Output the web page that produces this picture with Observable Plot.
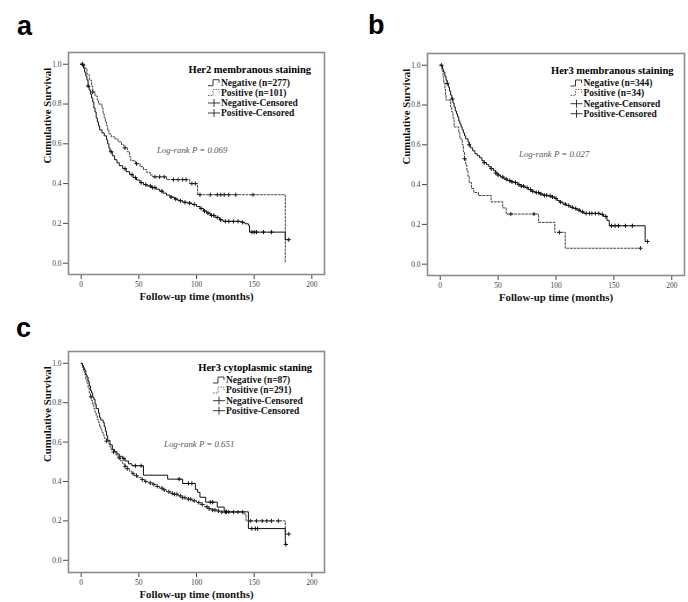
<!DOCTYPE html>
<html>
<head>
<meta charset="utf-8">
<script src="https://cdn.jsdelivr.net/npm/d3@7"></script>
<script src="https://cdn.jsdelivr.net/npm/@observablehq/plot@0.6"></script>
<style>
  html, body { margin: 0; padding: 0; background: #fff; }
  #root { position: relative; width: 688px; height: 602px; overflow: hidden; background: #fff; }
  #root svg { position: absolute; max-width: none; background: transparent; }
</style>
</head>
<body>
<div id="root"></div>
<script>
// ---------- shared axis values ----------
const xTicks = [0, 50, 100, 150, 200];
const yTicks = [0.0, 0.2, 0.4, 0.6, 0.8, 1.0];

// ---------- panel a : Her2 membranous staining ----------
const her2NegSteps = [[0,1.0],[2,0.98],[3,0.96],[4,0.94],[5,0.92],[6,0.89],[7,0.87],[8,0.85],[9,0.83],[10,0.81],[11,0.78],[12,0.76],[13,0.73],[14,0.71],[15,0.69],[16,0.67],[18,0.655],[20,0.64],[22,0.62],[23,0.60],[24,0.58],[25,0.56],[27,0.54],[29,0.52],[31,0.505],[33,0.49],[36,0.475],[39,0.46],[42,0.445],[45,0.43],[48,0.418],[51,0.405],[54,0.395],[57,0.388],[61,0.38],[65,0.372],[68,0.362],[71,0.352],[74,0.342],[77,0.332],[81,0.322],[84,0.314],[88,0.306],[92,0.302],[96,0.295],[100,0.285],[103,0.275],[106,0.262],[109,0.252],[112,0.24],[116,0.23],[120,0.218],[123,0.21],[139,0.205],[142,0.198],[145,0.19],[146,0.156],[177,0.118],[180,0.118]];
const her2NegCensor = [1,6,26,38,44,47,52,56,60,62,64,70,78,82,86,90,94,98,104,107,110,113,115,118,121,125,128,132,136,140,148,150,152,158,165,180];
const her2PosSteps = [[0,1.0],[3,0.98],[5,0.95],[7,0.92],[9,0.89],[10,0.86],[12,0.84],[14,0.82],[15,0.80],[18,0.78],[19,0.75],[20,0.73],[21,0.71],[22,0.69],[23,0.67],[24,0.65],[26,0.635],[29,0.625],[32,0.61],[35,0.595],[37,0.58],[40,0.56],[42,0.535],[43,0.515],[47,0.5],[51,0.485],[54,0.47],[57,0.455],[60,0.443],[62,0.434],[74,0.42],[94,0.40],[101,0.344],[177,0.344],[177,0]];
const her2PosCensor = [1,10,38,48,64,68,72,80,84,88,91,96,99,103,112,118,121,124,128,134,149];

// ---------- panel b : Her3 membranous staining ----------
const her3mNegSteps = [[0,1.0],[2,0.98],[3,0.965],[4,0.945],[5,0.925],[6,0.908],[7,0.89],[8,0.87],[9,0.85],[10,0.83],[11,0.81],[12,0.79],[13,0.77],[14,0.755],[15,0.74],[16,0.72],[17,0.705],[18,0.69],[19,0.675],[20,0.66],[21,0.645],[22,0.63],[24,0.615],[25,0.60],[26,0.585],[28,0.57],[30,0.555],[32,0.545],[34,0.535],[36,0.52],[38,0.51],[40,0.5],[42,0.49],[44,0.48],[46,0.47],[48,0.458],[50,0.448],[52,0.438],[55,0.428],[58,0.42],[61,0.414],[64,0.41],[67,0.4],[70,0.392],[73,0.385],[76,0.375],[79,0.366],[82,0.36],[86,0.353],[89,0.346],[93,0.343],[96,0.338],[99,0.33],[101,0.32],[103,0.312],[106,0.302],[109,0.295],[112,0.286],[115,0.28],[118,0.272],[121,0.263],[124,0.255],[138,0.25],[141,0.24],[144,0.22],[146,0.193],[177,0.114],[180,0.114]];
const her3mNegCensor = [1,6,10.5,25,38,44,48,50,54,57,60,62,65,68,70,72,75,78,80,83,85,87,90,92,95,97,100,104,108,111,114,117,120,123,126,129,131,134,137,140,143,148,151,154,160,166,179];
const her3mPosSteps = [[0,1.0],[1.5,0.97],[2.5,0.94],[3,0.91],[4,0.88],[4.5,0.85],[5,0.825],[9,0.79],[10,0.765],[11,0.735],[12,0.69],[16,0.66],[17,0.63],[19,0.60],[20,0.565],[21,0.53],[22,0.50],[23,0.47],[24,0.44],[25,0.41],[27,0.38],[29,0.36],[33,0.345],[44,0.313],[54,0.283],[57,0.252],[85,0.21],[99,0.16],[108,0.08],[173,0.08]];
const her3mPosCensor = [21,61,81,103,173];

// ---------- panel c : Her3 cytoplasmic staining ----------
const her3cNegSteps = [[0,1.0],[1,0.988],[2,0.977],[3,0.965],[4,0.942],[5,0.93],[6,0.908],[7,0.885],[8,0.862],[9,0.85],[10,0.828],[11,0.816],[12,0.793],[13,0.77],[15,0.747],[16,0.724],[17,0.712],[19,0.70],[20,0.678],[21,0.655],[22,0.632],[23,0.609],[25,0.586],[27,0.563],[29,0.552],[31,0.54],[33,0.528],[36,0.516],[38,0.504],[41,0.49],[44,0.48],[54,0.432],[75,0.412],[88,0.39],[99,0.36],[101,0.345],[103,0.32],[108,0.295],[118,0.27],[124,0.246],[145,0.161],[177,0.08],[177.5,0.08]];
const her3cNegCensor = [37,47,52,85,93,96,112,114,126,148,151,153,177.5];
const her3cPosSteps = [[0,1.0],[1,0.98],[2,0.96],[3,0.944],[4,0.92],[5,0.9],[6,0.875],[7,0.85],[8,0.83],[9,0.81],[10,0.79],[11,0.77],[12,0.75],[13,0.734],[14,0.715],[15,0.70],[16,0.68],[17,0.665],[18,0.65],[19,0.635],[20,0.62],[22,0.605],[24,0.59],[25,0.575],[26,0.562],[28,0.55],[30,0.535],[32,0.52],[34,0.505],[36,0.49],[38,0.477],[40,0.465],[42,0.452],[44,0.44],[46,0.43],[49,0.42],[52,0.41],[55,0.40],[58,0.393],[62,0.385],[65,0.375],[68,0.366],[71,0.358],[74,0.348],[77,0.34],[80,0.335],[84,0.327],[88,0.318],[92,0.31],[96,0.302],[100,0.293],[104,0.283],[107,0.272],[110,0.262],[113,0.255],[118,0.25],[121,0.245],[141,0.235],[143,0.20],[177,0.133],[180,0.133]];
const her3cPosCensor = [8.5,22,28,33,38,40,45,48,53,56,60,63,66,70,72,76,79,81,83,86,88,90,93,95,98,102,105,109,111,114,116,119,122,125,128,132,136,140,147,152,157,161,165,171,180];

// ---------- texts ----------
const panelLetters = ["a", "b", "c"];
const legendTitles = ["Her2 membranous staining", "Her3 membranous staining", "Her3 cytoplasmic staning"];
const legendEntries = [
  ["Negative (n=277)", "Positive (n=101)", "Negative-Censored", "Positive-Censored"],
  ["Negative (n=344)", "Positive (n=34)", "Negative-Censored", "Positive-Censored"],
  ["Negative (n=87)", "Positive (n=291)", "Negative-Censored", "Positive-Censored"]
];
const logRankP = ["0.069", "0.027", "0.651"];

// ---------- layout (pixel placement of each panel) ----------
const layouts = [
  {left: 0, top: 0, width: 334, height: 310, ml: 68, mr: 10, mt: 52, mb: 36, yDomain: [-0.057, 1.059],
   letter: [17, 35], legTitle: [311, 69], legX: 221, legY: [82.7, 92.5, 103, 113], logrank: [157, 149.5]},
  {left: 360, top: 0, width: 328, height: 310, ml: 67, mr: 4, mt: 53, mb: 35, yDomain: [-0.057, 1.059],
   letter: [368, 34], legTitle: [673.5, 70.3], legX: 583.5, legY: [83, 92.5, 103.7, 113.7], logrank: [519, 154]},
  {left: 0, top: 299, width: 334, height: 303, ml: 68, mr: 10, mt: 52, mb: 30, yDomain: [-0.062, 1.06],
   letter: [16, 337], legTitle: [312, 367.3], legX: 226, legY: [380, 390, 400.7, 410.7], logrank: [164, 444.3]}
];

const panels = [
  {neg: her2NegSteps, pos: her2PosSteps, negC: her2NegCensor, posC: her2PosCensor},
  {neg: her3mNegSteps, pos: her3mPosSteps, negC: her3mNegCensor, posC: her3mPosCensor},
  {neg: her3cNegSteps, pos: her3cPosSteps, negC: her3cNegCensor, posC: her3cPosCensor}
];

function stepAt(steps, t) {
  let s = steps[0][1];
  for (const [tt, ss] of steps) if (tt <= t) s = ss;
  return s;
}

const plusSymbol = {
  draw(context, size) {
    const r = Math.sqrt(size / Math.PI);
    context.moveTo(-r, 0); context.lineTo(r, 0);
    context.moveTo(0, -r); context.lineTo(0, r);
  }
};

const serif = "'Liberation Serif', 'Times New Roman', serif";
const root = document.getElementById("root");

panels.forEach((p, i) => {
  const L = layouts[i];
  const negC = p.negC.map(t => ({t, s: stepAt(p.neg, t)}));
  const posC = p.posC.map(t => ({t, s: stepAt(p.pos, t)}));
  const chart = Plot.plot({
    width: L.width, height: L.height,
    marginLeft: L.ml, marginRight: L.mr, marginTop: L.mt, marginBottom: L.mb,
    style: {background: "transparent", fontFamily: serif, fontSize: "7.5px", color: "#444", overflow: "visible"},
    x: {domain: [-11, 211], ticks: xTicks, tickFormat: d => String(d), label: null, tickSize: 5, tickPadding: 2},
    y: {domain: L.yDomain, ticks: yTicks, tickFormat: d3.format(".1f"), label: null, tickSize: 5, tickPadding: 2},
    marks: [
      Plot.frame({stroke: "#8c8c8c", strokeWidth: 1.6}),
      Plot.line(p.pos, {x: d => d[0], y: d => d[1], curve: "step-after", stroke: "#444", strokeWidth: 1, strokeDasharray: "2,1.6"}),
      Plot.line(p.neg, {x: d => d[0], y: d => d[1], curve: "step-after", stroke: "#111", strokeWidth: 1}),
      Plot.dot(posC, {x: "t", y: "s", symbol: plusSymbol, r: 2.1, fill: "none", stroke: "#222", strokeWidth: 1}),
      Plot.dot(negC, {x: "t", y: "s", symbol: plusSymbol, r: 2.1, fill: "none", stroke: "#111", strokeWidth: 1}),
      Plot.text(["Cumulative Survival"], {text: d => d, frameAnchor: "left", rotate: -90, dx: -21, fontWeight: "bold", fontSize: 10.8, fill: "#111", fontFamily: serif}),
      Plot.text(["Follow-up time (months)"], {text: d => d, frameAnchor: "bottom", dy: 22.5, lineAnchor: "middle", fontWeight: "bold", fontSize: 10.8, fill: "#111", fontFamily: serif})
    ]
  });
  chart.style.left = L.left + "px";
  chart.style.top = L.top + "px";
  root.appendChild(chart);
});

// ---------- overlay: panel letters, legends, log-rank annotation ----------
const overlay = d3.select(root).append("svg")
  .attr("width", 688).attr("height", 602)
  .style("left", "0px").style("top", "0px").style("pointer-events", "none");

layouts.forEach((L, i) => {
  overlay.append("text")
    .attr("x", L.letter[0]).attr("y", L.letter[1])
    .attr("font-family", "'Liberation Sans', Arial, sans-serif")
    .attr("font-weight", "bold").attr("font-size", 27).attr("fill", "#000")
    .text(panelLetters[i]);

  overlay.append("text")
    .attr("x", L.legTitle[0]).attr("y", L.legTitle[1])
    .attr("text-anchor", "end").attr("dominant-baseline", "central")
    .attr("font-family", serif).attr("font-weight", "bold").attr("font-size", 10.5).attr("fill", "#000")
    .text(legendTitles[i]);

  legendEntries[i].forEach((label, k) => {
    const y = L.legY[k];
    const x0 = L.legX - 13;
    const g = overlay.append("g");
    if (k < 2) {
      g.append("path")
        .attr("d", `M${x0},${y + 3}H${x0 + 5}V${y - 3}H${x0 + 11}V${y}`)
        .attr("fill", "none").attr("stroke", k === 0 ? "#222" : "#555").attr("stroke-width", 0.9)
        .attr("stroke-dasharray", k === 0 ? null : "1.5,1.2");
    } else {
      g.append("path")
        .attr("d", `M${x0},${y}H${x0 + 12}M${x0 + 6},${y - 4}V${y + 4}`)
        .attr("fill", "none").attr("stroke", "#222").attr("stroke-width", 0.9);
    }
    overlay.append("text")
      .attr("x", L.legX).attr("y", y)
      .attr("dominant-baseline", "central")
      .attr("font-family", serif).attr("font-weight", "bold").attr("font-size", 9.5).attr("fill", "#111")
      .text(label);
  });

  overlay.append("text")
    .attr("x", L.logrank[0]).attr("y", L.logrank[1])
    .attr("dominant-baseline", "central")
    .attr("font-family", serif).attr("font-style", "italic").attr("font-size", 8.8).attr("fill", "#555")
    .text(`Log-rank P = ${logRankP[i]}`);
});
</script>
</body>
</html>
